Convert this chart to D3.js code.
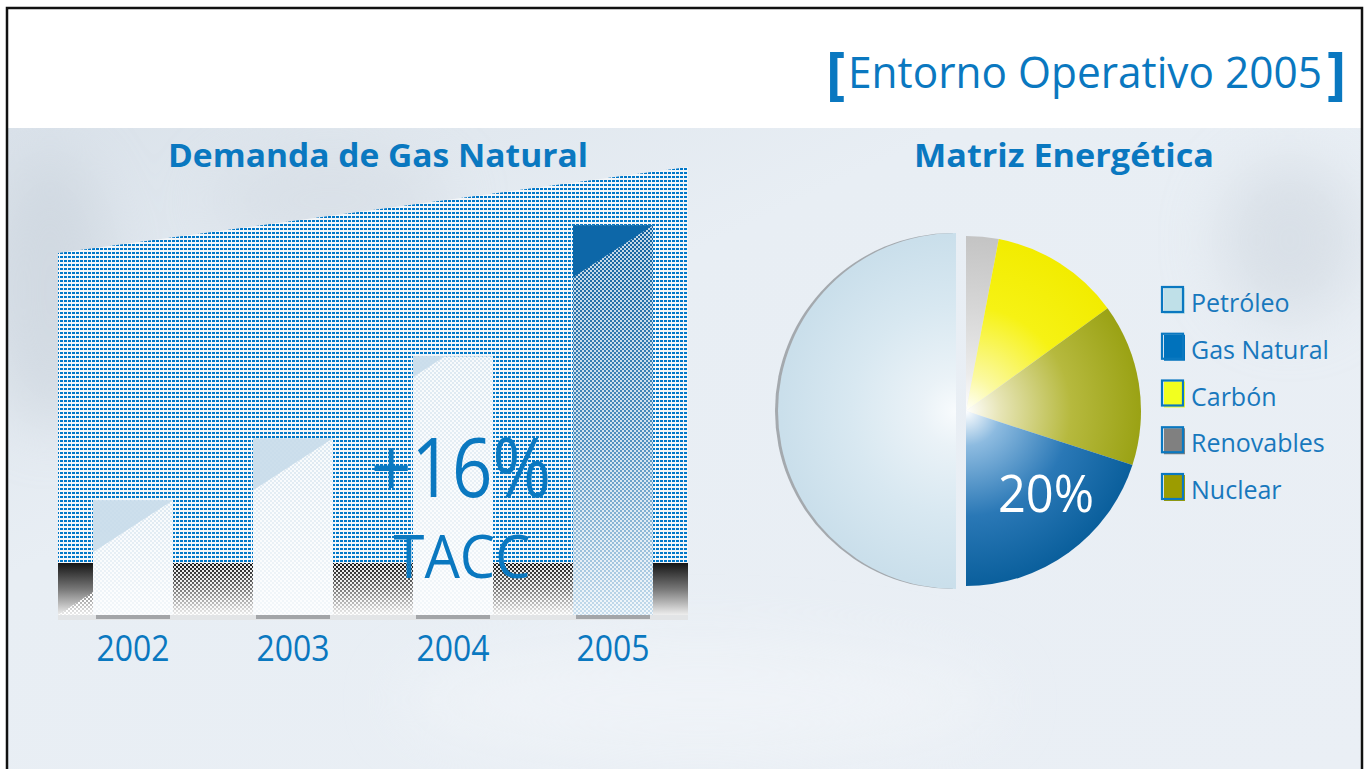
<!DOCTYPE html>
<html>
<head>
<meta charset="utf-8">
<script src="https://cdn.jsdelivr.net/npm/d3@7"></script>
<style>
  body { margin: 0; background: #fff; }
  svg { display: block; font-family: "Open Sans", "Noto Sans", sans-serif; }
</style>
</head>
<body>
<div id="chart"></div>
<script>
const width = 1370;
const height = 769;

// datos (índice de demanda, 2002 = 100)
const years = ["2002", "2003", "2004", "2005"];
const demandIndex = [100, 112.6, 129.3, 156];
const growthLabel = "+16%";
const growthNote = "TACC";

// matriz energética (%)
const energySources = ["Petróleo", "Gas Natural", "Carbón", "Renovables", "Nuclear"];
const energyShare = [50, 20, 12, 3, 15];
const pieOrder = ["Renovables", "Carbón", "Nuclear", "Gas Natural", "Petróleo"];
const highlightSource = "Gas Natural";

const blue = "#0a78c0";
const legendFill = {
    "Petróleo": "#bfe0e8",
    "Gas Natural": "#0072bc",
    "Carbón": "#f2ff1f",
    "Renovables": "#808080",
    "Nuclear": "#9c9c00"
};
const sliceStops = {
    "Petróleo": ["#f8fbfd", "#eaf2f7", "#d8e8f1", "#cadfeb"],
    "Gas Natural": ["#ffffff", "#8dbbe0", "#2a78b6", "#0a5f9c"],
    "Carbón": ["#ffffff", "#fbf9a0", "#f6f214", "#f2ec00"],
    "Renovables": ["#ffffff", "#ececec", "#d6d6d6", "#c4c4c4"],
    "Nuclear": ["#ffffff", "#e6e4b4", "#b6b93e", "#9aa214"]
};

const svg = d3.select("#chart")
    .append("svg")
    .attr("width", width)
    .attr("height", height)
    .attr("viewBox", `0 0 ${width} ${height}`);

const defs = svg.append("defs");

// fondo inferior
const bg = defs.append("linearGradient").attr("id", "bg")
    .attr("x1", 0).attr("y1", 0).attr("x2", 1).attr("y2", 1);
bg.append("stop").attr("offset", 0).attr("stop-color", "#dae2ea");
bg.append("stop").attr("offset", 0.35).attr("stop-color", "#e8eef4");
bg.append("stop").attr("offset", 1).attr("stop-color", "#eaeff5");

defs.append("filter").attr("id", "blur")
    .append("feGaussianBlur").attr("stdDeviation", 30);
defs.append("clipPath").attr("id", "bgClip")
    .append("rect").attr("x", 8).attr("y", 128).attr("width", 1354).attr("height", height - 128);

// trama de puntos azules
const dots = defs.append("pattern").attr("id", "dots")
    .attr("patternUnits", "userSpaceOnUse")
    .attr("width", 4).attr("height", 4);
dots.append("rect").attr("width", 4).attr("height", 4).attr("fill", "#f3f6f9");
dots.append("rect").attr("width", 3).attr("height", 2).attr("fill", "#0077c8");

// tablero para las barras
const checker = defs.append("pattern").attr("id", "checker")
    .attr("patternUnits", "userSpaceOnUse")
    .attr("width", 4).attr("height", 4);
checker.append("rect").attr("width", 2).attr("height", 2).attr("fill", "#fff");
checker.append("rect").attr("x", 2).attr("y", 2).attr("width", 2).attr("height", 2).attr("fill", "#fff");

const band = defs.append("linearGradient").attr("id", "band")
    .attr("x1", 0).attr("y1", 0).attr("x2", 0).attr("y2", 1);
band.append("stop").attr("offset", 0).attr("stop-color", "#151515");
band.append("stop").attr("offset", 0.5).attr("stop-color", "#777");
band.append("stop").attr("offset", 1).attr("stop-color", "#eeeeee");

const barLight = defs.append("linearGradient").attr("id", "barLight")
    .attr("x1", 0).attr("y1", 0).attr("x2", 0).attr("y2", 1);
barLight.append("stop").attr("offset", 0).attr("stop-color", "#dce8f1");
barLight.append("stop").attr("offset", 1).attr("stop-color", "#f3f7fa");

const barDark = defs.append("linearGradient").attr("id", "barDark")
    .attr("x1", 0).attr("y1", 0).attr("x2", 0).attr("y2", 1);
barDark.append("stop").attr("offset", 0).attr("stop-color", "#11619e");
barDark.append("stop").attr("offset", 0.55).attr("stop-color", "#4f8fbf");
barDark.append("stop").attr("offset", 1).attr("stop-color", "#c6dcec");

// marco y fondo
svg.append("rect").attr("x", 8).attr("y", 128).attr("width", 1354).attr("height", height - 128)
    .attr("fill", "url(#bg)");
const blobs = svg.append("g").attr("clip-path", "url(#bgClip)")
    .append("g").attr("filter", "url(#blur)").attr("opacity", 0.5);
blobs.append("ellipse").attr("cx", 50).attr("cy", 290).attr("rx", 60).attr("ry", 140).attr("fill", "#c3ccd6");
blobs.append("ellipse").attr("cx", 1290).attr("cy", 240).attr("rx", 70).attr("ry", 80).attr("fill", "#c9d1da");
blobs.append("ellipse").attr("cx", 330).attr("cy", 200).attr("rx", 120).attr("ry", 50).attr("fill", "#d2d9e1");
blobs.append("ellipse").attr("cx", 700).attr("cy", 700).attr("rx", 300).attr("ry", 60).attr("fill", "#f4f7fa");

svg.append("rect").attr("x", 7).attr("y", 8).attr("width", 1355).attr("height", height + 10)
    .attr("fill", "none").attr("stroke", "#111").attr("stroke-width", 2.5);

// título
svg.append("text")
    .attr("x", 826).attr("y", 93)
    .attr("font-size", 58).attr("font-weight", 700)
    .attr("fill", blue)
    .text("[");
svg.append("text")
    .attr("x", 848).attr("y", 88)
    .attr("font-size", 43)
    .attr("fill", blue)
    .attr("textLength", 474).attr("lengthAdjust", "spacingAndGlyphs")
    .text("Entorno Operativo 2005");
svg.append("text")
    .attr("x", 1327).attr("y", 93)
    .attr("font-size", 58).attr("font-weight", 700)
    .attr("fill", blue)
    .text("]");

// ---------- Demanda de Gas Natural ----------
svg.append("text")
    .attr("x", 378).attr("y", 167)
    .attr("text-anchor", "middle")
    .attr("font-size", 32).attr("font-weight", 700)
    .attr("fill", blue)
    .attr("textLength", 420).attr("lengthAdjust", "spacingAndGlyphs")
    .text("Demanda de Gas Natural");

const x = d3.scaleBand()
    .domain(years)
    .range([58, 688])
    .paddingInner(0.5)
    .paddingOuter(0.21875);

const y = d3.scaleLinear()
    .domain([76.6, 158.1])
    .range([615, 215]);

const baseY = y.range()[0];
const bandTop = 563;

// rampa punteada
svg.append("path")
    .attr("d", `M58,253 L688,167 L688,${bandTop} L58,${bandTop} Z`)
    .attr("fill", "url(#dots)");

// banda oscura
svg.append("rect").attr("x", 58).attr("y", bandTop).attr("width", 630).attr("height", baseY - bandTop)
    .attr("fill", "url(#band)");
svg.append("rect").attr("x", x("2002") + x.bandwidth()).attr("y", bandTop)
    .attr("width", x("2005") - x("2002") - x.bandwidth()).attr("height", baseY - bandTop)
    .attr("fill", "url(#checker)").attr("opacity", 0.9);
svg.append("path")
    .attr("d", `M58,${baseY} L${x("2002")},${baseY - 23} L${x("2002")},${baseY} Z`)
    .attr("fill", "url(#checker)");
svg.append("rect").attr("x", 58).attr("y", baseY).attr("width", 630).attr("height", 5)
    .attr("fill", "#e2e4e6");

const bars = svg.selectAll(".bar")
    .data(years.map((yr, i) => ({ year: yr, value: demandIndex[i] })))
    .enter()
    .append("g")
    .attr("class", "bar");

bars.append("rect")
    .attr("x", d => x(d.year) + 3)
    .attr("y", baseY)
    .attr("width", x.bandwidth() - 6)
    .attr("height", 4)
    .attr("fill", "#a3a5a8");

bars.append("rect")
    .attr("x", d => x(d.year))
    .attr("y", d => y(d.value))
    .attr("width", x.bandwidth())
    .attr("height", d => baseY - y(d.value))
    .attr("fill", d => d.year === "2005" ? "url(#barDark)" : "url(#barLight)");

bars.append("rect")
    .attr("x", d => x(d.year))
    .attr("y", d => y(d.value))
    .attr("width", x.bandwidth())
    .attr("height", d => baseY - y(d.value))
    .attr("fill", "url(#checker)")
    .attr("opacity", d => d.year === "2005" ? 0.75 : 0.8);

bars.append("path")
    .attr("d", d => {
        const x0 = x(d.year), t = y(d.value);
        const w = d.year === "2004" ? x.bandwidth() * 0.4 : x.bandwidth();
        return `M${x0},${t} L${x0 + w},${t} L${x0},${t + w * 0.65} Z`;
    })
    .attr("fill", d => d.year === "2005" ? "#0d67a8" : "#c8dcea")
    .attr("opacity", d => d.year === "2005" ? 1 : 0.9);

svg.selectAll(".year")
    .data(years)
    .enter()
    .append("text")
    .attr("class", "year")
    .attr("x", d => x(d) + x.bandwidth() / 2)
    .attr("y", 661)
    .attr("text-anchor", "middle")
    .attr("font-size", 36)
    .attr("fill", blue)
    .attr("textLength", 73).attr("lengthAdjust", "spacingAndGlyphs")
    .text(d => d);

svg.append("text")
    .attr("x", 461).attr("y", 497)
    .attr("text-anchor", "middle")
    .attr("font-size", 82)
    .attr("fill", blue)
    .attr("textLength", 180).attr("lengthAdjust", "spacingAndGlyphs")
    .text(growthLabel);

svg.append("text")
    .attr("x", 462).attr("y", 578)
    .attr("text-anchor", "middle")
    .attr("font-size", 60)
    .attr("fill", blue)
    .attr("textLength", 137).attr("lengthAdjust", "spacingAndGlyphs")
    .text(growthNote);

// ---------- Matriz Energética ----------
svg.append("text")
    .attr("x", 1064).attr("y", 167)
    .attr("text-anchor", "middle")
    .attr("font-size", 32).attr("font-weight", 700)
    .attr("fill", blue)
    .attr("textLength", 300).attr("lengthAdjust", "spacingAndGlyphs")
    .text("Matriz Energética");

const shareOf = name => energyShare[energySources.indexOf(name)];
const pie = d3.pie().sort(null).value(d => d.value);
const slices = pie(pieOrder.map(name => ({ name, value: shareOf(name) })));

const pieCenter = [966, 411];
const radius = 175;
const arc = d3.arc().innerRadius(0).outerRadius(radius);
const arcBig = d3.arc().innerRadius(0).outerRadius(radius + 3);

slices.forEach((s, i) => {
    const g = defs.append("radialGradient").attr("id", "slice" + i)
        .attr("gradientUnits", "userSpaceOnUse")
        .attr("cx", 0).attr("cy", 0).attr("r", radius)
        .attr("fx", 0).attr("fy", 0);
    const st = sliceStops[s.data.name];
    [0, 0.2, 0.6, 1].forEach((o, k) => g.append("stop").attr("offset", o).attr("stop-color", st[k]));
});

const pieG = svg.append("g");

const sliceG = pieG.selectAll(".slice")
    .data(slices)
    .enter()
    .append("g")
    .attr("class", "slice")
    .attr("transform", d => d.data.name === "Petróleo"
        ? `translate(${pieCenter[0] - 10},${pieCenter[1]})`
        : `translate(${pieCenter[0]},${pieCenter[1]})`);

// borde gris del petróleo
sliceG.filter(d => d.data.name === "Petróleo")
    .append("path")
    .attr("d", arcBig)
    .attr("transform", "translate(-3,0)")
    .attr("fill", "#a4a9ae");

sliceG.append("path")
    .attr("d", d => d.data.name === "Petróleo" ? arcBig(d) : arc(d))
    .attr("fill", (d, i) => `url(#slice${i})`);

const hl = slices.find(d => d.data.name === highlightSource);
svg.append("text")
    .attr("x", 1046).attr("y", 512)
    .attr("text-anchor", "middle")
    .attr("font-size", 52)
    .attr("fill", "#fff")
    .attr("textLength", 96).attr("lengthAdjust", "spacingAndGlyphs")
    .text(hl.data.value + "%");

// leyenda
const legendY = d3.scalePoint()
    .domain(energySources)
    .range([300, 487]);

const legend = svg.selectAll(".legend")
    .data(energySources)
    .enter()
    .append("g")
    .attr("class", "legend")
    .attr("transform", d => `translate(1162,${legendY(d)})`);

legend.append("rect")
    .attr("x", 2).attr("y", -12)
    .attr("width", 21).attr("height", 26)
    .attr("fill", d => legendFill[d]);

legend.append("rect")
    .attr("x", 0).attr("y", -13)
    .attr("width", 21).attr("height", 25)
    .attr("fill", "none")
    .attr("stroke", blue)
    .attr("stroke-width", 2.2);

legend.append("text")
    .attr("x", 29).attr("y", 12)
    .attr("font-size", 25)
    .attr("fill", "#1878bd")
    .text(d => d);
</script>
</body>
</html>
